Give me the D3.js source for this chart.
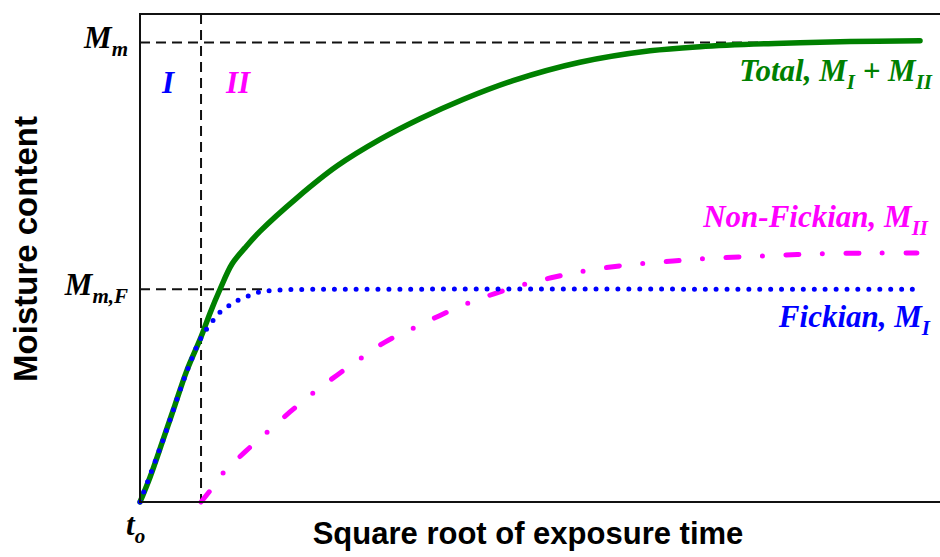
<!DOCTYPE html>
<meta charset="utf-8">
<style>
body { margin: 0; background: #fff; overflow: hidden; }
.frame { fill: none; stroke: #111; stroke-width: 2px; }
.guide { fill: none; stroke: #111; stroke-width: 2px; stroke-dasharray: 10, 6; }
.lbl { font-family: "Liberation Serif", "Times New Roman", serif; font-weight: bold; font-style: italic; }
.axis-title { font-family: "Liberation Sans", Arial, sans-serif; font-weight: bold; fill: #000; }
</style>
<body>
<script src="https://d3js.org/d3.v7.min.js"></script>
<script>

// sqrt(time) in arbitrary units, moisture normalised to Mm = 1
var MmF = 0.463;      // Fickian saturation level
var tSwitch = 0.761;  // start of stage II

var totalX = [0, 0.125, 0.287, 0.436, 0.586, 0.761, 0.873, 0.998, 1.147, 1.309, 1.496, 1.958, 2.456, 2.993, 3.491, 4.027, 4.651, 5.486, 6.359, 6.983, 7.918, 8.853, 9.726];
var totalY = [0, 0.054, 0.135, 0.211, 0.287, 0.359, 0.411, 0.463, 0.518, 0.553, 0.589, 0.662, 0.731, 0.789, 0.834, 0.876, 0.917, 0.957, 0.982, 0.991, 0.998, 1.002, 1.004];

var fickX = [0, 0.287, 0.586, 0.761, 0.898, 0.973, 1.085, 1.197, 1.322, 1.446, 1.584, 1.845, 2.618, 9.70];
var fickY = [0, 0.135, 0.285, 0.357, 0.392, 0.409, 0.424, 0.437, 0.446, 0.455, 0.459, 0.462, 0.463, 0.463];

var nonFickX = [0.761, 0.898, 1.035, 1.309, 1.584, 1.870, 2.157, 2.456, 2.756, 3.055, 3.392, 3.728, 4.065, 4.414, 4.763, 5.125, 5.486, 5.985, 6.484, 6.983, 7.706, 8.454, 9.202, 9.688];
var nonFickY = [0, 0.030, 0.063, 0.109, 0.152, 0.196, 0.237, 0.276, 0.313, 0.348, 0.377, 0.405, 0.431, 0.453, 0.472, 0.488, 0.501, 0.514, 0.522, 0.529, 0.535, 0.540, 0.542, 0.542];

var W = 940, H = 557;
var plotL = 140, plotR = 942, plotT = 14, plotB = 502;

var x = d3.scaleLinear().domain([0, 10]).range([plotL, plotR]);
var y = d3.scaleLinear().domain([0, 1]).range([plotB, 42.5]);

var svg = d3.select("body").append("svg")
    .attr("width", W)
    .attr("height", H)
    .style("display", "block");

function pts(xs, ys) { return xs.map(function(d, i) { return [d, ys[i]]; }); }

var line = d3.line()
    .x(function(d) { return x(d[0]); })
    .y(function(d) { return y(d[1]); })
    .curve(d3.curveCatmullRom.alpha(0.5));

// guide lines
svg.append("line").attr("class", "guide")
    .attr("x1", x(0)).attr("x2", x(7.92))
    .attr("y1", y(1)).attr("y2", y(1));
svg.append("line").attr("class", "guide")
    .attr("x1", x(0)).attr("x2", x(1.57))
    .attr("y1", y(MmF)).attr("y2", y(MmF));
svg.append("line").attr("class", "guide")
    .attr("x1", x(tSwitch)).attr("x2", x(tSwitch))
    .attr("y1", plotT).attr("y2", plotB);

// curves
svg.append("path")
    .datum(pts(nonFickX, nonFickY))
    .attr("d", line)
    .style("fill", "none")
    .style("stroke", "#ff00ff")
    .style("stroke-width", 5)
    .style("stroke-linecap", "round")
    .style("stroke-dasharray", "13, 23.5, 0, 23.5");

svg.append("path")
    .datum(pts(totalX, totalY))
    .attr("d", line)
    .style("fill", "none")
    .style("stroke", "#008000")
    .style("stroke-width", 5.5)
    .style("stroke-linecap", "round");

svg.append("path")
    .datum(pts(fickX, fickY))
    .attr("d", line)
    .style("fill", "none")
    .style("stroke", "#0000ff")
    .style("stroke-width", 5)
    .style("stroke-linecap", "round")
    .style("stroke-dasharray", "0, 10.9");

// frame (right side runs past the picture edge)
svg.append("rect").attr("class", "frame")
    .attr("x", plotL).attr("y", plotT)
    .attr("width", W + 10 - plotL).attr("height", plotB - plotT);

// label with subscripts: parts = [[text, isSub], ...]
function label(px, py, anchor, color, parts) {
  var t = svg.append("text").attr("class", "lbl")
      .attr("x", px).attr("y", py)
      .attr("text-anchor", anchor)
      .style("fill", color)
      .style("font-size", "31px");
  var down = false;
  parts.forEach(function(p) {
    var s = t.append("tspan").text(p[0]);
    if (p[1]) { s.style("font-size", "21px"); if (!down) s.attr("dy", 8); down = true; }
    else { if (down) s.attr("dy", -8); down = false; }
  });
  return t;
}

label(128, y(1) + 5, "end", "#000", [["M"], ["m", 1]]);
label(128, y(MmF) + 6, "end", "#000", [["M"], ["m,F", 1]]);
label(126, 535, "start", "#000", [["t"], ["o", 1]]);
label(168, 93, "middle", "#0000ff", [["I"]]);
label(238, 93, "middle", "#ff00ff", [["II"]]);
label(932, 81, "end", "#008000", [["Total, M"], ["I", 1], [" + M"], ["II", 1]]);
label(928, 227, "end", "#ff00ff", [["Non-Fickian, M"], ["II", 1]]);
label(930, 327, "end", "#0000ff", [["Fickian, M"], ["I", 1]]);

// axis titles
svg.append("text").attr("class", "axis-title")
    .attr("x", 528).attr("y", 544)
    .attr("text-anchor", "middle")
    .style("font-size", "31px")
    .text("Square root of exposure time");

svg.append("text").attr("class", "axis-title")
    .attr("transform", "translate(37,249) rotate(-90)")
    .attr("text-anchor", "middle")
    .style("font-size", "33px")
    .text("Moisture content");

</script>
</body>
